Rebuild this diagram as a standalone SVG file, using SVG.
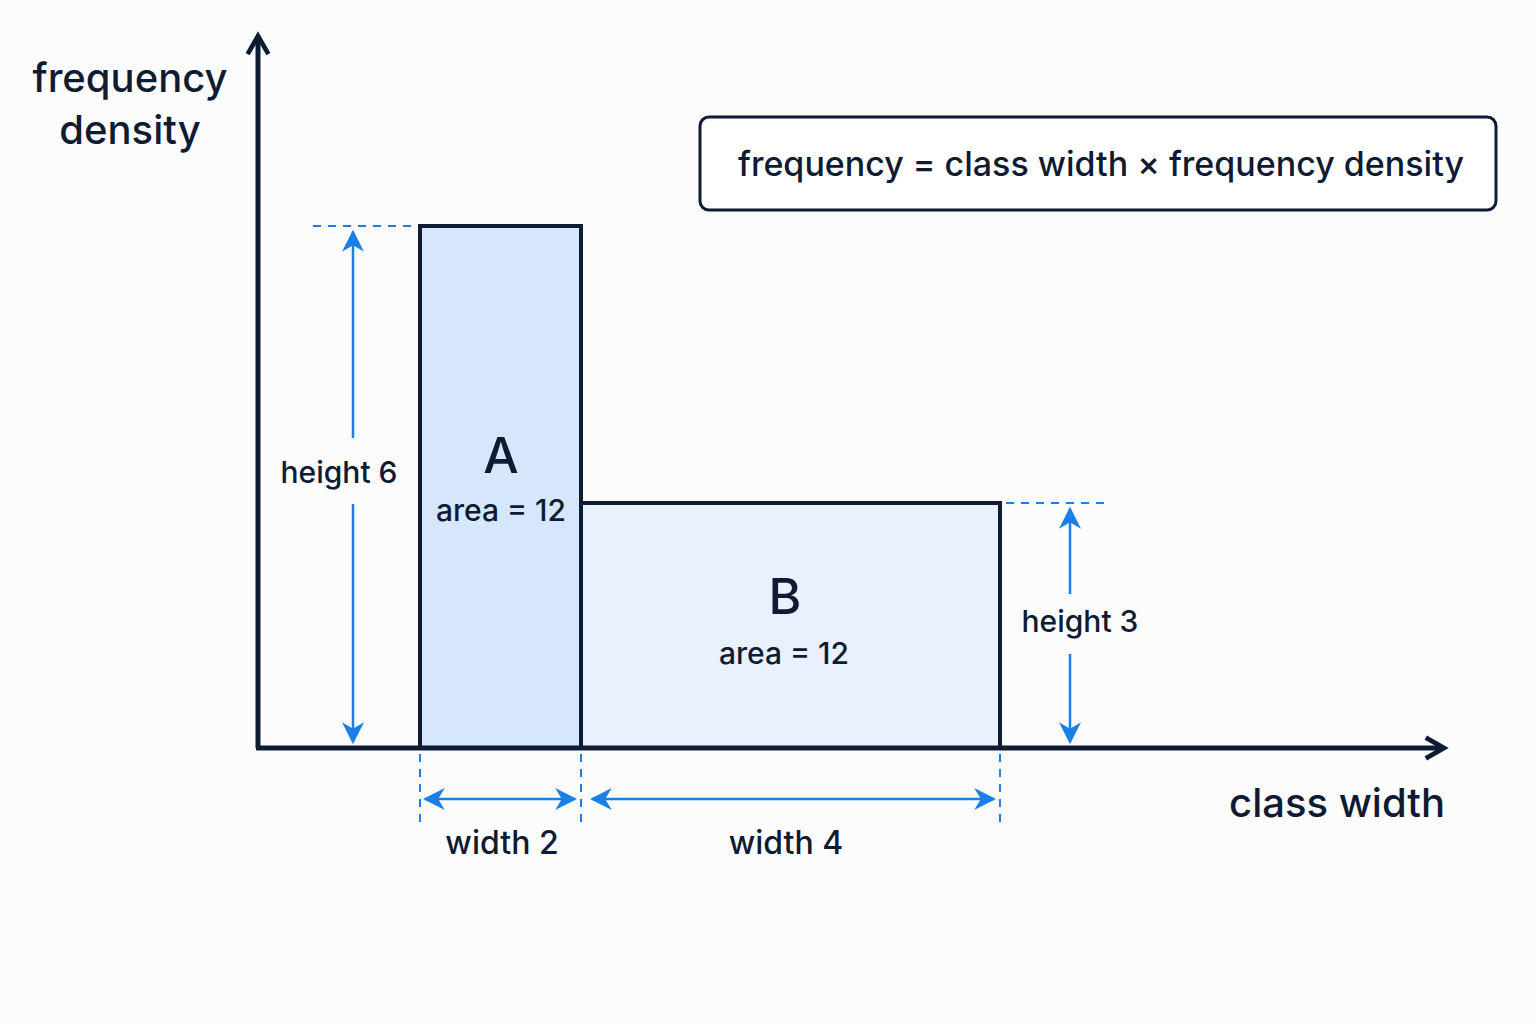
<svg xmlns="http://www.w3.org/2000/svg" width="1536" height="1024" viewBox="0 0 1536 1024">
<style>
text{font-family:Inter,"Noto Sans",sans-serif;fill:#0f1a33;font-weight:500}
.ax{stroke:#0f1a33;stroke-width:5;fill:none}
.dim{stroke:#1a7fe8;stroke-width:2.5;fill:none}
.dash{stroke:#1a7fe8;stroke-width:2;stroke-dasharray:8 7;fill:none}
.bar{stroke:#0f1a33;stroke-width:4}
</style>
<defs>
<marker id="ba" viewBox="0 0 10 10" refX="9" refY="5" markerWidth="7" markerHeight="7" markerUnits="userSpaceOnUse" orient="auto-start-reverse"><path d="M0,0 L10,5 L0,10 L3,5 Z" fill="#1a7fe8" transform="scale(1)"/></marker>
<marker id="bb" viewBox="0 0 10 10" refX="9" refY="5" markerWidth="22" markerHeight="22" markerUnits="userSpaceOnUse" orient="auto-start-reverse"><path d="M0,0 L10,5 L0,10 L3,5 Z" fill="#1a7fe8"/></marker>
<marker id="ax" viewBox="0 0 10 10" refX="8" refY="5" markerWidth="26" markerHeight="26" markerUnits="userSpaceOnUse" orient="auto"><path d="M1,1 L8,5 L1,9" fill="none" stroke="#0f1a33" stroke-width="1.8"/></marker>
</defs>
<rect width="1536" height="1024" fill="#fcfcfd"/>
<g id="barA"><rect class="bar" x="420" y="226" width="161" height="522" fill="#d6e6fb"/><text x="501" y="473" font-size="50" font-weight="700" text-anchor="middle">A</text><text x="501" y="521" font-size="30" text-anchor="middle">area = 12</text></g>
<g id="barB"><rect class="bar" x="581" y="503" width="419" height="245" fill="#e8f1fd"/><text x="785" y="614" font-size="50" font-weight="700" text-anchor="middle">B</text><text x="784" y="664" font-size="30" text-anchor="middle">area = 12</text></g>
<g id="axes"><path class="ax" d="M258,748 V36" marker-end="url(#ax)"/><path class="ax" d="M256,748 H1444" marker-end="url(#ax)"/>
<text x="130" y="92" font-size="40" text-anchor="middle">frequency</text><text x="130" y="144" font-size="40" text-anchor="middle">density</text>
<text x="1337" y="817" font-size="40" text-anchor="middle">class width</text></g>
<g id="formula"><rect x="700" y="117" width="796" height="93" rx="9" fill="#fff" stroke="#0f1a33" stroke-width="3"/><text x="1101" y="176" font-size="34" text-anchor="middle">frequency = class width × frequency density</text></g>
<g id="connectors">
<path class="dash" d="M313,226 H412"/><path class="dash" d="M1006,503 H1105"/>
<path class="dash" d="M420,754 V828"/><path class="dash" d="M581,754 V828"/><path class="dash" d="M1000,754 V828"/>
<path class="dim" d="M353,438 V232" marker-end="url(#bb)"/><path class="dim" d="M353,504 V742" marker-end="url(#bb)"/>
<path class="dim" d="M1070,594 V509" marker-end="url(#bb)"/><path class="dim" d="M1070,654 V742" marker-end="url(#bb)"/>
<path class="dim" d="M425,799 H575" marker-start="url(#bb)" marker-end="url(#bb)"/>
<path class="dim" d="M592,799 H994" marker-start="url(#bb)" marker-end="url(#bb)"/>
</g>
<g id="labels">
<text x="339" y="483" font-size="30" text-anchor="middle">height 6</text>
<text x="1080" y="632" font-size="30" text-anchor="middle">height 3</text>
<text x="502" y="854" font-size="32" text-anchor="middle">width 2</text>
<text x="786" y="854" font-size="32" text-anchor="middle">width 4</text>
</g>
</svg>
